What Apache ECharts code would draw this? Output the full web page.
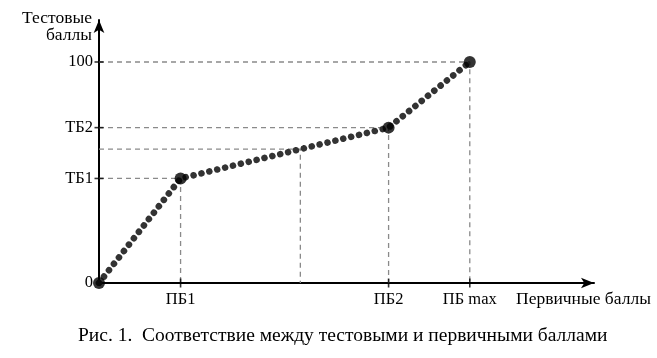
<!DOCTYPE html>
<html><head><meta charset="utf-8">
<script src="https://cdn.jsdelivr.net/npm/echarts@6/dist/echarts.min.js"></script>
<style>html,body{margin:0;padding:0;background:#fff}#c{width:657px;height:358px}</style>
</head><body><div id="c"></div>
<script>
// Key points (primary score, test score)
const xKeys = [0, 22.0, 78.1, 100];          // 0, ПБ1, ПБ2, ПБ max
const yKeys = [0, 47.3, 70.3, 100];          // 0, ТБ1, ТБ2, 100
const xTickLabels = ['', 'ПБ1', 'ПБ2', 'ПБ max'];
const yTickLabels = ['0', 'ТБ1', 'ТБ2', '100'];
const midPoint = [54.3, 60.6];               // example point between ПБ1 and ПБ2
const yAxisName = 'Тестовые\nбаллы';
const xAxisName = 'Первичные баллы';
const caption = 'Рис. 1.  Соответствие между тестовыми и первичными баллами';

const FONT = '"Liberation Serif","Times New Roman",serif';
const curve = xKeys.map((x, i) => [x, yKeys[i]]);
const guides = [];
for (let i = 1; i < xKeys.length; i++) {
  guides.push([[0, yKeys[i]], [xKeys[i], yKeys[i]], [xKeys[i], 0]]);
}
guides.push([[0, midPoint[1]], [midPoint[0], midPoint[1]], [midPoint[0], 0]]);

const series = [];
guides.forEach(g => series.push({
  type: 'line', data: g, symbol: 'none', silent: true, z: 1,
  lineStyle: { color: '#8a8a8a', width: 1.3, type: [5, 4] }
}));
series.push({
  type: 'line', data: curve, symbol: 'none', z: 3,
  lineStyle: { color: '#333', width: 6.6, type: [0.01, 8.1], cap: 'round' }
});
series.push({
  type: 'scatter', data: curve, symbol: 'circle', symbolSize: 12, z: 5,
  itemStyle: { color: '#000' }
});
// axis tick marks crossing the axes
series.push({
  type: 'scatter', data: yKeys.slice(1).map(y => [0, y]), symbol: 'rect', symbolSize: [9, 1.6], z: 6,
  itemStyle: { color: '#000' }
});
series.push({
  type: 'scatter', data: xKeys.slice(1).map(x => [x, 0]), symbol: 'rect', symbolSize: [1.6, 9], z: 6,
  itemStyle: { color: '#000' }
});

const chart = echarts.init(document.getElementById('c'));
chart.setOption({
  animation: false,
  backgroundColor: '#fff',
  title: {
    text: caption, left: 73, top: 321,
    textStyle: { fontFamily: FONT, fontSize: 19.5, fontWeight: 'normal', color: '#000' }
  },
  grid: { left: 99, right: 63, top: 20, bottom: 75 },
  xAxis: {
    type: 'value', min: 0, max: 133.5,
    splitLine: { show: false },
    axisLine: { onZero: false, lineStyle: { color: '#000', width: 2 }, symbol: ['none', 'arrow'], symbolSize: [8, 13] },
    axisTick: { show: false },
    axisLabel: {
      customValues: xKeys.slice(1), margin: 8, color: '#000', fontFamily: FONT, fontSize: 16.5,
      formatter: v => xTickLabels[xKeys.indexOf(v)] || ''
    },
    name: xAxisName, nameLocation: 'end', nameGap: -78,
    nameTextStyle: { fontFamily: FONT, fontSize: 17.5, color: '#000', align: 'left', verticalAlign: 'top', padding: [7, 0, 0, 0] }
  },
  yAxis: {
    type: 'value', min: 0, max: 119.0,
    splitLine: { show: false },
    axisLine: { onZero: false, lineStyle: { color: '#000', width: 2 }, symbol: ['none', 'arrow'], symbolSize: [8, 13] },
    axisTick: { show: false },
    axisLabel: {
      customValues: yKeys, margin: 6, color: '#000', fontFamily: FONT, fontSize: 16.5,
      formatter: v => yTickLabels[yKeys.indexOf(v)] || ''
    },
    name: yAxisName, nameLocation: 'end', nameGap: -24,
    nameTextStyle: { fontFamily: FONT, fontSize: 17.5, color: '#000', align: 'right', verticalAlign: 'bottom', lineHeight: 17, padding: [0, 7, 0, 0] }
  },
  series: series
});
</script></body></html>
